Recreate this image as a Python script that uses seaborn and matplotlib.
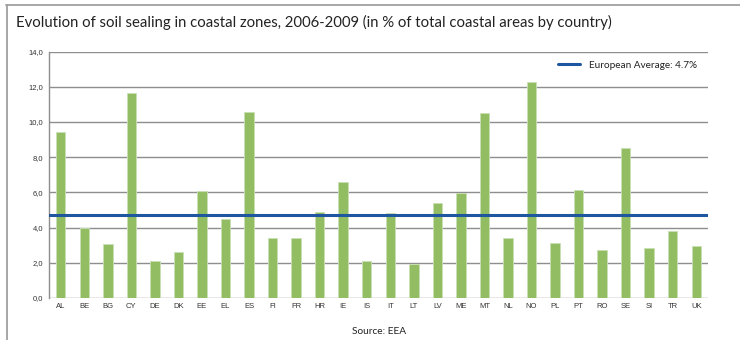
import matplotlib
matplotlib.use("Agg")
import matplotlib.pyplot as plt
import seaborn as sns
import pandas as pd
from matplotlib.lines import Line2D

countries = ["AL", "BE", "BG", "CY", "DE", "DK", "EE", "EL", "ES", "FI", "FR", "HR", "IE", "IS",
             "IT", "LT", "LV", "ME", "MT", "NL", "NO", "PL", "PT", "RO", "SE", "SI", "TR", "UK"]
sealing_pct = [9.43, 3.95, 3.08, 11.64, 2.10, 2.63, 6.09, 4.48, 10.56, 3.39, 3.39, 4.88, 6.57, 2.10,
               4.84, 1.94, 5.41, 5.98, 10.50, 3.39, 12.27, 3.12, 6.13, 2.72, 8.52, 2.82, 3.82, 2.97]
eu_average = 4.7
y_ticks = [0, 2, 4, 6, 8, 10, 12, 14]
y_tick_labels = ["0,0", "2,0", "4,0", "6,0", "8,0", "10,0", "12,0", "14,0"]

title = "Evolution of soil sealing in coastal zones, 2006-2009 (in % of total coastal areas by country)"
source = "Source: EEA"
avg_label = f"European Average: {eu_average}%"

df = pd.DataFrame({"country": countries, "value": sealing_pct})

sns.set_theme(style="white")
plt.rcParams["font.family"] = ["Liberation Sans", "DejaVu Sans"]

fig = plt.figure(figsize=(7.4, 3.4), dpi=100)
ax = fig.add_axes([0.0662, 0.1238, 0.8906, 0.7247])

sns.barplot(data=df, x="country", y="value", color="#93bd63", saturation=1,
            width=0.4, edgecolor="#c9e0b4", linewidth=0.6, ax=ax)

ax.set_ylim(0, 14)
ax.set_xlim(-0.5, len(countries) - 0.5)
ax.set_yticks(y_ticks)
ax.set_yticklabels(y_tick_labels)
ax.set_xlabel("")
ax.set_ylabel("")

for v in y_ticks:
    ax.axhline(v, color="#8e8e8e", lw=1.0, zorder=0.5)
ax.set_axisbelow(True)

for s in ["top", "right", "bottom"]:
    ax.spines[s].set_visible(False)
ax.spines["left"].set_color("#8e8e8e")
ax.spines["left"].set_linewidth(1.0)

ax.tick_params(axis="both", length=0, labelsize=5.5, colors="#333333", pad=4)

ax.axhline(eu_average, color="#1f56a0", lw=2.2, zorder=3)

handle = Line2D([0], [0], color="#1f56a0", lw=2.2)
leg = ax.legend([handle], [avg_label], loc="upper right", bbox_to_anchor=(0.997, 1.0),
                frameon=False, handlelength=2.2, handletextpad=0.9,
                prop={"family": ["Lato", "DejaVu Sans"], "size": 7.2})
for t in leg.get_texts():
    t.set_color("#222222")

fig.text(0.022, 0.935, title, fontsize=10.7, family=["Lato", "DejaVu Sans"],
         color="#222222", va="center", ha="left")
fig.text(0.512, 0.025, source, fontsize=7.3, family=["Lato", "DejaVu Sans"],
         color="#222222", va="center", ha="center")

# Frame along top and left of the figure
fig.add_artist(Line2D([0.008, 1.0], [0.985, 0.985], color="#a0a0a0", lw=1.3,
                      transform=fig.transFigure))
fig.add_artist(Line2D([0.009, 0.009], [0.0, 0.985], color="#a0a0a0", lw=1.3,
                      transform=fig.transFigure))

fig.savefig("out.png", dpi=100)
